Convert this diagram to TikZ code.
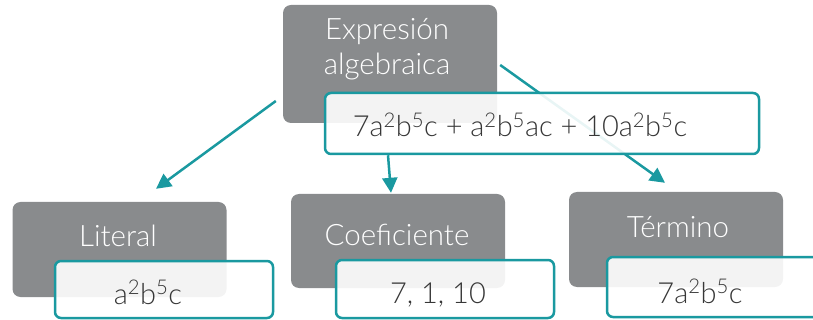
\documentclass[tikz,border=0pt]{standalone}
\usepackage{fontspec}
\setmainfont{Lato Light}
\usepackage{tikz}
\usetikzlibrary{arrows.meta,backgrounds}
\definecolor{cajagris}{RGB}{137,139,141}
\definecolor{turquesa}{RGB}{26,153,160}
\definecolor{texto}{RGB}{55,55,55}
\tikzset{
  gris/.style={fill=cajagris, rounded corners=8pt, inner sep=0pt},
  marco/.style={draw=turquesa, line width=2.5pt, fill=white, fill opacity=0.9, rounded corners=6pt, inner sep=0pt},
  titulo/.style={text=white, font=\fontsize{29.5}{35}\selectfont, anchor=base, inner sep=0pt},
  valor/.style={text=texto, font=\fontsize{29}{35}\selectfont, anchor=base, inner sep=0pt},
  flecha/.style={draw=turquesa, line width=2.5pt, -{Triangle[length=15pt,width=15pt]}}
}
\newcommand{\pot}[2]{#1\textsuperscript{#2}}

\begin{document}
\begin{tikzpicture}[x=1pt,y=-1pt]
  \useasboundingbox (0,0) rectangle (813,320);
  \clip (0,0) rectangle (813,320);
  \node[gris, minimum width=214pt, minimum height=118pt] (expr) at (390,64) {};
  \node[titulo, align=center] (exprtit) at (387,75) {Expresión\\algebraica};
  \foreach \n/\x/\y/\h/\tx/\ty/\t in {lit/119.5/249.5/95/118/247/Literal, coef/398/241/94/397/245/Coeficiente, term/676/239.5/95/678/237/Término}
    \node[gris, minimum width=214pt, minimum height=\h pt] (\n) at (\x,\y) {}
      node[titulo] (\n tit) at (\tx,\ty) {\t};
  % cajas con el valor
  \node[marco, minimum width=434pt, minimum height=61pt] (formula) at (542,123.5) {};
  \node[valor] (formulatxt) at (520,137) {7\pot{a}{2}\pot{b}{5}c + \pot{a}{2}\pot{b}{5}ac + 10\pot{a}{2}\pot{b}{5}c};
  \node[marco, minimum width=218pt, minimum height=57pt] (litval) at (164,289.5) {};
  \node[valor] (litvaltxt) at (148,304) {\pot{a}{2}\pot{b}{5}c};
  \node[marco, minimum width=218pt, minimum height=58pt] (coefval) at (445,289) {};
  \node[valor] (coefvaltxt) at (438,303) {7, 1, 10};
  \node[marco, minimum width=218pt, minimum height=60pt] (termval) at (716,287) {};
  \node[valor] (termvaltxt) at (700,303) {7\pot{a}{2}\pot{b}{5}c};
  \begin{scope}[on background layer]
    \draw[flecha] ([shift={(-7pt,-37pt)}]expr.west) -- ([shift={(36.5pt,13pt)}]lit.north);
    \draw[flecha] ([xshift=-154pt]formula.south) -- ([shift={(-7pt,1pt)}]coef.north);
    \draw[flecha] ([shift={(3pt,-1pt)}]expr.east) -- ([shift={(-11pt,9pt)}]term.north);
  \end{scope}
\end{tikzpicture}
\end{document}
